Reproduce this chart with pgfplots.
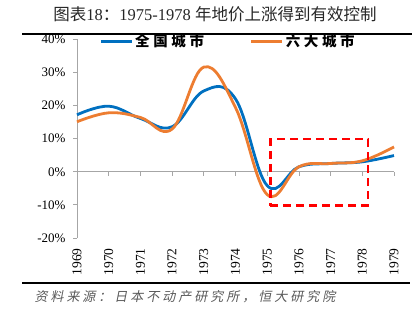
\documentclass[border=0pt]{standalone}
\usepackage{pgfplots}
\pgfplotsset{compat=1.18}
\usepackage{fontspec}
\setmainfont{Liberation Serif}
\newfontfamily\cjk{Noto Sans CJK SC}
\newfontfamily\cjkl{Noto Sans CJK SC}[LetterSpace=25]
\newfontfamily\cjki{Noto Sans CJK SC}[FakeSlant=0.2,LetterSpace=23]
\definecolor{cblue}{HTML}{0070C0}
\definecolor{corange}{HTML}{ED7D31}
\definecolor{axgray}{HTML}{A6A6A6}
\definecolor{srcgray}{HTML}{595959}
\begin{document}
\begin{tikzpicture}[x=1pt,y=1pt]
\path[use as bounding box] (0,0) rectangle (420,323);
\node[text=black!85, font=\fontsize{16.5}{17}\selectfont] at (215,309)
  {{\cjk 图表}18{\cjk ：}1975-1978 {\cjk 年地价上涨得到有效控制}};
\draw[line width=2pt] (22,288.7) -- (412,288.7);
\draw[line width=2pt] (22,39.5) -- (410,39.5);
\node[anchor=west, text=srcgray, font=\fontsize{13}{14}\selectfont] at (31,26)
  {\cjki 资料来源：日本不动产研究所，恒大研究院};
\begin{axis}[
  at={(77pt,85pt)}, anchor=south west,
  width=317pt, height=198.7pt, scale only axis,
  xmin=1969, xmax=1979, ymin=-20, ymax=40,
  axis x line=middle, axis y line=left,
  axis line style={-, draw=axgray, line width=0.8pt},
  every inner x axis line/.append style={-},
  every outer y axis line/.append style={-},
  every inner y axis line/.append style={-},
  every outer x axis line/.append style={-},
  hide obscured x ticks=false,
  xtick={1969,1970,...,1979}, ytick={-20,-10,...,40},
  tick style={draw=axgray, line width=0.8pt},
  major tick length=4pt,
  xtick align=outside, ytick align=outside,
  /pgf/number format/assume math mode=true,
  /pgf/number format/1000 sep={},
  xticklabel style={yshift=-69pt, rotate=90, anchor=east, font=\fontsize{13.5}{14}\selectfont},
  yticklabel style={xshift=-4pt, font=\fontsize{13}{14}\selectfont},
  yticklabel={\pgfmathprintnumber{\tick}\%},
  clip=false,
  legend columns=2,
  legend style={draw=none, fill=none, inner sep=0pt,
    at={(axis description cs:0.07,0.99)}, anchor=west,
    font=\fontsize{14.5}{15}\selectfont\cjkl\bfseries,
    /tikz/every even column/.append style={column sep=44pt}},
  legend image code/.code={\draw[#1] (0pt,0pt) -- (31pt,0pt);},
]
\addplot[cblue, line width=2.8pt, smooth, tension=0.66] coordinates {
(1969,17.2) (1970,19.8) (1971,16.1) (1972,13.6) (1973,24.4) (1974,22.0)
(1975,-4.2) (1976,1.5) (1977,2.5) (1978,3.0) (1979,4.9)};
\addlegendentry{全国城市}
\addplot[corange, line width=2.8pt, smooth, tension=0.66] coordinates {
(1969,15.1) (1970,17.8) (1971,16.4) (1972,12.9) (1973,31.6) (1974,19.4)
(1975,-6.9) (1976,1.5) (1977,2.5) (1978,3.3) (1979,7.5)};
\addlegendentry{六大城市}
\addplot[red, line width=2.3pt, dash pattern=on 8pt off 5pt, forget plot] coordinates {
(1975.1,-10.2) (1978.18,-10.2) (1978.18,9.8) (1975.1,9.8)} -- cycle;
\end{axis}
\end{tikzpicture}
\end{document}
